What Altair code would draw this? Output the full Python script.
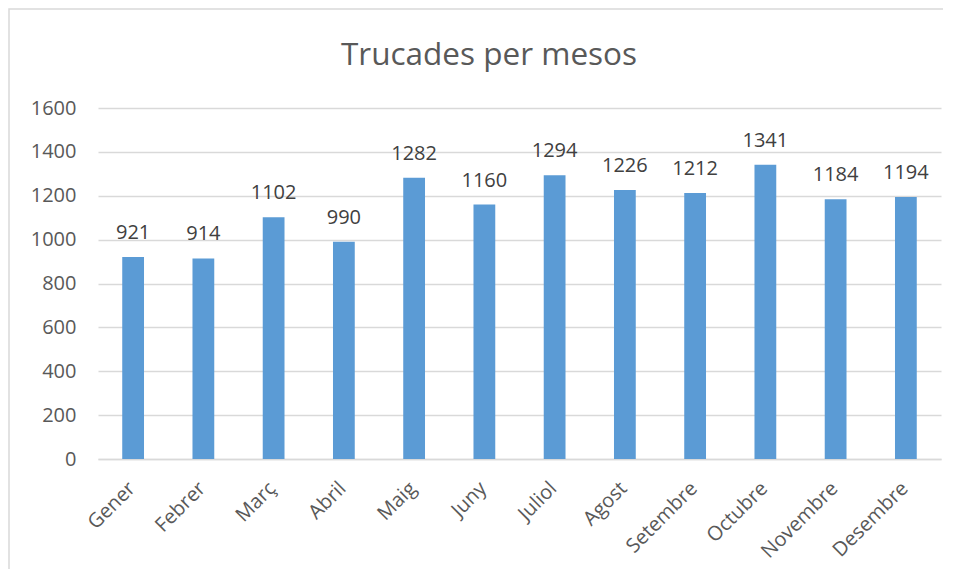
import altair as alt
import pandas as pd

months = ["Gener", "Febrer", "Març", "Abril", "Maig", "Juny", "Juliol",
          "Agost", "Setembre", "Octubre", "Novembre", "Desembre"]
calls = [921, 914, 1102, 990, 1282, 1160, 1294, 1226, 1212, 1341, 1184, 1194]

df = pd.DataFrame({"mes": months, "trucades": calls})

FONT = "Open Sans"
W, H = 843, 351

x = alt.X("mes:N", sort=months, title=None,
          scale=alt.Scale(paddingInner=0.69, paddingOuter=0.345),
          axis=alt.Axis(labelAngle=-45, labelAlign="right", labelBaseline="middle",
                        labelFontSize=20, labelColor="#595959", labelFont=FONT,
                        labelPadding=26, labelOffset=-1, ticks=False,
                        domainColor="#D9D9D9", domainWidth=1.5, grid=False))
y = alt.Y("trucades:Q", title=None,
          scale=alt.Scale(domain=[0, 1600]),
          axis=alt.Axis(values=list(range(0, 1601, 200)), format="d",
                        labelFontSize=20, labelColor="#595959", labelFont=FONT,
                        labelPadding=22, ticks=False, domain=False,
                        gridColor="#D9D9D9", gridWidth=1.5))

base = alt.Chart(df)
bars = base.mark_bar(color="#5B9BD5").encode(x=x, y=y)
labels = base.mark_text(fontSize=20, font=FONT, color="#404040",
                        baseline="alphabetic", dy=-18).encode(
    x=alt.X("mes:N", sort=months), y="trucades:Q", text="trucades:Q")

border = alt.Chart(pd.DataFrame({"a": [0]})).mark_rect(
    fill=None, stroke="#D9D9D9", strokeWidth=1.5, clip=False).encode(
    x=alt.value(-89), x2=alt.value(W + 30), y=alt.value(-99), y2=alt.value(H + 130))

title = alt.Chart(pd.DataFrame({"t": ["Trucades per mesos"]})).mark_text(
    fontSize=31.5, font=FONT, color="#595959", baseline="alphabetic", align="center").encode(
    x=alt.value(489 - 98), y=alt.value(65 - 108), text="t:N")

chart = alt.layer(border, bars, labels, title).properties(
    width=W, height=H,
    autosize=alt.AutoSizeParams(type="none"),
    padding={"left": 90, "top": 100, "right": 2, "bottom": 110},
).configure_view(stroke=None)

chart.save("out.html", embed_options={"renderer": "svg", "actions": False})
